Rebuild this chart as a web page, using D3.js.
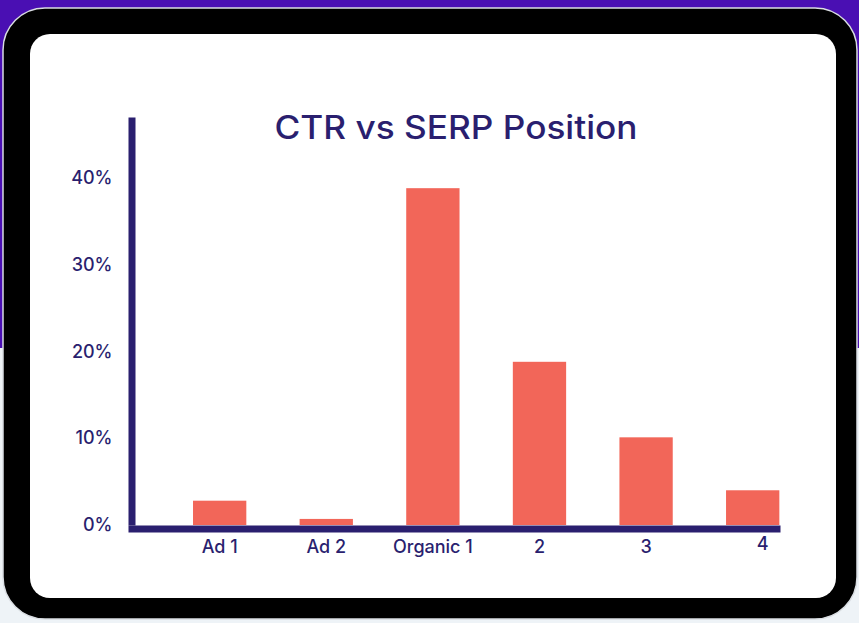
<!DOCTYPE html>
<html>
<head>
<meta charset="utf-8">
<script src="https://cdn.jsdelivr.net/npm/d3@7"></script>
<style>
  html, body { margin: 0; padding: 0; }
  body { width: 859px; height: 623px; overflow: hidden; }
</style>
</head>
<body>
<div id="chart"></div>
<script>
// CTR by position on the results page, in percent
const positions = ["Ad 1", "Ad 2", "Organic 1", "2", "3", "4"]
const ctrValues = [2.8, 0.7, 38.8, 18.8, 10.1, 4.0]
const yTicks = [0, 10, 20, 30, 40]
const title = "CTR vs SERP Position"

const width = 859
const height = 623
const navy = "#2a1f6f"
const coral = "#f26659"

const svg = d3.select("#chart").append("svg")
    .attr("width", width)
    .attr("height", height)

// page background: purple band on top, pale below
svg.append("rect").attr("width", width).attr("height", height).attr("fill", "#eef3f7")
svg.append("rect").attr("width", width).attr("height", 348).attr("fill", "#4a0fb3")

// tablet frame
svg.append("rect")
    .attr("x", 3).attr("y", 8).attr("width", 854).attr("height", 611)
    .attr("rx", 42)
    .attr("fill", "#000")
    .attr("stroke", "#d9dde2").attr("stroke-width", 1.5)
svg.append("rect")
    .attr("x", 30).attr("y", 34).attr("width", 806).attr("height", 564)
    .attr("rx", 20)
    .attr("fill", "#fff")

// scales
const x = d3.scaleBand()
    .domain(positions)
    .range([128, 780])
    .paddingInner(0.5)
    .paddingOuter(0.308)
    .align(0.99)

const y = d3.scaleLinear()
    .domain([0, 47])
    .range([525, 117])

// bars
svg.selectAll("rect.bar")
    .data(positions)
    .enter()
    .append("rect")
    .attr("class", "bar")
    .attr("x", d => x(d))
    .attr("width", x.bandwidth())
    .attr("y", (d, i) => y(ctrValues[i]))
    .attr("height", (d, i) => y(0) - y(ctrValues[i]))
    .attr("fill", coral)

// y axis
const yAxis = svg.append("g")
    .attr("transform", "translate(131.5,0)")
    .call(d3.axisLeft(y).tickValues(yTicks).tickSize(0).tickPadding(19)
        .tickFormat(d => d + "%"))
yAxis.select(".domain").attr("stroke", navy).attr("stroke-width", 7)
yAxis.selectAll("text")
    .attr("fill", navy)
    .style("font-family", "Inter, sans-serif")
    .style("font-size", "18px")
    .style("font-weight", 500)

// x axis
const xAxis = svg.append("g")
    .attr("transform", "translate(0,528.5)")
    .call(d3.axisBottom(x).tickSize(0).tickPadding(12))
xAxis.select(".domain").attr("stroke", navy).attr("stroke-width", 7)
xAxis.selectAll("text")
    .attr("fill", navy)
    .style("font-family", "Inter, sans-serif")
    .style("font-size", "18px")
    .style("font-weight", 500)
// last label sits a little right and higher in the original
xAxis.selectAll(".tick").filter(d => d === "4").select("text")
    .attr("dx", 10).attr("y", 9)

// title
svg.append("text")
    .attr("x", 456)
    .attr("y", 139)
    .attr("text-anchor", "middle")
    .attr("fill", navy)
    .attr("textLength", 363)
    .attr("lengthAdjust", "spacingAndGlyphs")
    .style("font-family", "Inter, sans-serif")
    .style("font-size", "32px")
    .style("font-weight", 500)
    .text(title)
</script>
</body>
</html>
